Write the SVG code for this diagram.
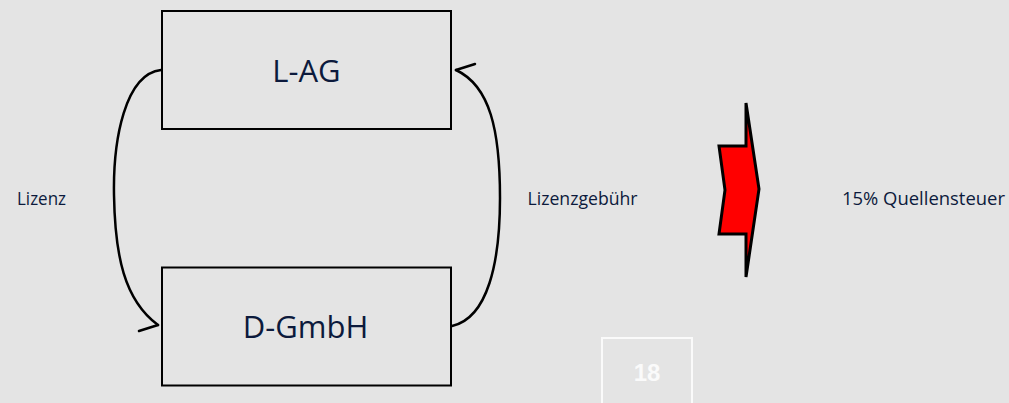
<svg xmlns="http://www.w3.org/2000/svg" width="1009" height="403" viewBox="0 0 1009 403">
  <style>
    .box { fill: none; stroke: #000; stroke-width: 2; }
    .title { font-family: "Open Sans", "Noto Sans", sans-serif; font-size: 31px; fill: #0c1a3c; text-anchor: middle; }
    .label { font-family: "Open Sans", "Noto Sans", sans-serif; font-size: 17.5px; fill: #0c1a3c; }
    .flow { fill: none; stroke: #000; stroke-width: 2.5; stroke-linecap: round; stroke-linejoin: round; }
  </style>
  <rect width="1009" height="403" fill="#e4e4e4"/>

  <g id="node-lag">
    <rect class="box" x="162" y="11" width="289" height="118"/>
    <text class="title" x="306.5" y="81.5">L-AG</text>
  </g>

  <g id="node-dgmbh">
    <rect class="box" x="162" y="267.5" width="289" height="118"/>
    <text class="title" x="305.5" y="338">D-GmbH</text>
  </g>

  <g id="connectors">
    <!-- licence: L-AG to D-GmbH -->
    <path class="flow" d="M161,70 C125,74 113,140 114,195 C115,255 124,300 158,325"/>
    <path class="flow" d="M158,325 L139,331"/>
    <!-- royalty: D-GmbH to L-AG -->
    <path class="flow" d="M452,326 C488,318 500,262 500,198 C500,130 490,86 456,70"/>
    <path class="flow" d="M456,70 L475,64"/>
  </g>

  <g id="label-lizenz">
    <text class="label" x="17" y="205" textLength="49" lengthAdjust="spacingAndGlyphs">Lizenz</text>
  </g>
  <g id="label-gebuehr">
    <text class="label" x="527.5" y="205" textLength="110" lengthAdjust="spacingAndGlyphs">Lizenzgebühr</text>
  </g>

  <g id="node-arrow">
    <polygon points="746,103 759,189 746,277 746,234 719,234 725,190 719,146 746,146" fill="#ff0000" stroke="#000" stroke-width="3" stroke-linejoin="miter"/>
  </g>

  <g id="label-steuer">
    <text class="label" x="842" y="205" textLength="163" lengthAdjust="spacingAndGlyphs">15% Quellensteuer</text>
  </g>

  <g id="page-number">
    <rect x="602" y="338" width="90" height="80" fill="none" stroke="#fafafa" stroke-width="2"/>
    <text x="647" y="381" font-family="Liberation Sans, Arial, sans-serif" font-weight="bold" font-size="24" fill="#fafafa" text-anchor="middle">18</text>
  </g>
</svg>
